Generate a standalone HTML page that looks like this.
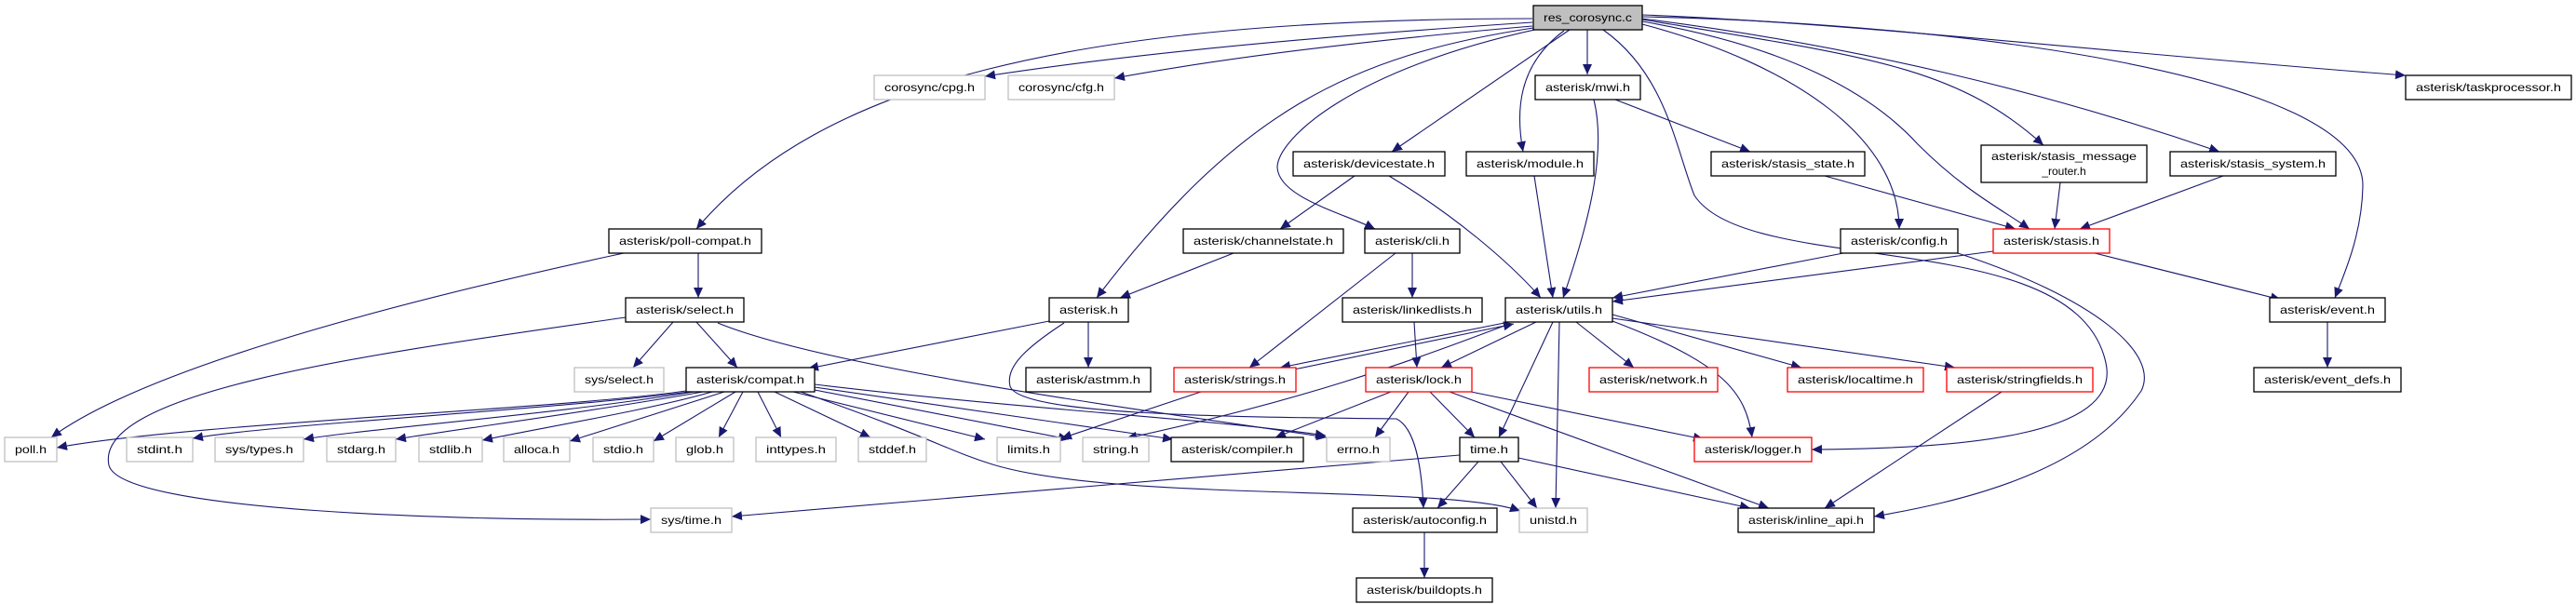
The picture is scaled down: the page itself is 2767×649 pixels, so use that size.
<!DOCTYPE html>
<html><head><meta charset="utf-8"><style>
html,body{margin:0;padding:0;background:#fff;}
svg{display:block;}
text{font-family:"Liberation Sans","DejaVu Sans",sans-serif;font-size:12px;fill:#000;}
.n{fill:#fff;stroke:#000;stroke-width:1.3;}
.g{fill:#fff;stroke:#bfbfbf;stroke-width:1.3;}
.r{fill:#fff;stroke:#ff0000;stroke-width:1.3;}
.e{fill:none;stroke:#191970;stroke-width:1.1;marker-end:url(#a);}
</style></head><body>
<svg width="2767" height="649" viewBox="0 0 2767 649" xmlns="http://www.w3.org/2000/svg">
<defs><marker id="a" markerUnits="userSpaceOnUse" markerWidth="12" markerHeight="10" refX="11" refY="5" orient="auto"><path d="M0,0 L11,5 L0,10 z" fill="#191970"/></marker></defs>
<g>
<!-- edges from res_corosync.c -->
<path class="e" d="M1646,20 C1150,20 880,90 748,246"/>
<path class="e" d="M1646,24 C1400,40 1200,60 1058,82"/>
<path class="e" d="M1646,28 C1450,45 1300,65 1197,84"/>
<path class="e" d="M1647,30 C1450,60 1330,120 1178,320"/>
<path class="e" d="M1686,32 L1495,163"/>
<path class="e" d="M1653,31 C1450,75 1372,150 1372,180 C1374,212 1440,228 1477,246"/>
<path class="e" d="M1680,33 C1630,70 1628,120 1636,163"/>
<path class="e" d="M1705,32 L1705,80"/>
<path class="e" d="M1722,32 C1790,80 1800,160 1820,210 C1880,300 2230,240 2262,390 C2280,470 2100,482 1946,483"/>
<path class="e" d="M1764,26 C1930,70 2040,150 2040,246"/>
<path class="e" d="M1764,23 C1920,50 2010,100 2060,155 C2110,205 2150,225 2180,246"/>
<path class="e" d="M1764,21 C2000,60 2100,70 2195,156"/>
<path class="e" d="M1764,20 C2000,50 2200,100 2384,163"/>
<path class="e" d="M1764,18 C2100,25 2540,80 2538,200 C2537,250 2520,290 2508,320"/>
<path class="e" d="M1764,16 C2000,25 2300,60 2584,81"/>
<!-- mid edges -->
<path class="e" d="M750,272 L750,320"/>
<path class="e" d="M670,272 C400,330 150,400 55,470"/>
<path class="e" d="M723,346 L680,395"/>
<path class="e" d="M748,346 L792,395"/>
<path class="e" d="M672,341 C400,380 100,420 117,500 C130,550 500,560 699,558"/>
<path class="e" d="M771,347 C900,400 1300,450 1425,470"/>
<path class="e" d="M1127,345 L868,396"/>
<path class="e" d="M1169,346 L1169,395"/>
<path class="e" d="M1143,347 C1100,375 1080,395 1085,415 C1095,445 1300,448 1500,450 C1520,460 1527,500 1529,546"/>
<path class="e" d="M1325,272 L1203,320"/>
<path class="e" d="M1455,189 L1375,246"/>
<path class="e" d="M1492,189 C1560,230 1620,280 1655,320"/>
<path class="e" d="M1648,189 L1668,320"/>
<path class="e" d="M1712,107 C1725,160 1710,230 1679,320"/>
<path class="e" d="M1735,107 L1880,163"/>
<path class="e" d="M1960,189 L2165,246"/>
<path class="e" d="M2213,196 L2207,246"/>
<path class="e" d="M2388,189 L2234,246"/>
<path class="e" d="M2141,270 L1732,324"/>
<path class="e" d="M1980,272 L1732,320"/>
<path class="e" d="M2103,272 C2250,320 2320,380 2300,420 C2240,510 2100,540 2013,555"/>
<path class="e" d="M2250,272 L2450,322"/>
<path class="e" d="M2500,346 L2500,395"/>
<path class="e" d="M1517,272 L1517,320"/>
<path class="e" d="M1499,272 L1342,395"/>
<path class="e" d="M1519,346 L1522,395"/>
<path class="e" d="M1616,347 L1375,395"/>
<path class="e" d="M1385,398 L1626,348"/>
<path class="e" d="M1650,346 L1548,395"/>
<path class="e" d="M1668,346 L1610,470"/>
<path class="e" d="M1675,346 L1671,546"/>
<path class="e" d="M1693,346 L1755,395"/>
<path class="e" d="M1732,338 L1935,395"/>
<path class="e" d="M1732,342 L2100,395"/>
<path class="e" d="M1732,345 C1850,390 1875,420 1882,470"/>
<path class="e" d="M1616,350 C1510,390 1400,430 1210,471"/>
<path class="e" d="M1290,421 L1140,471"/>
<path class="e" d="M1494,421 L1370,470"/>
<path class="e" d="M1513,421 L1477,470"/>
<path class="e" d="M1536,421 L1584,470"/>
<path class="e" d="M1580,421 L1830,472"/>
<path class="e" d="M1557,421 L1900,546"/>
<path class="e" d="M1568,489 L786,555"/>
<path class="e" d="M1588,496 L1544,546"/>
<path class="e" d="M1612,496 L1651,546"/>
<path class="e" d="M1631,492 L1880,546"/>
<path class="e" d="M2150,421 L1960,546"/>
<path class="e" d="M1530,571 L1530,621"/>
<!-- compat edges -->
<path class="e" d="M737,420 C600,440 200,455 61,481"/>
<path class="e" d="M740,421 C600,440 300,455 207,471"/>
<path class="e" d="M745,421 C600,445 400,460 326,472"/>
<path class="e" d="M755,421 C650,440 500,460 425,472"/>
<path class="e" d="M765,421 C700,440 580,460 518,473"/>
<path class="e" d="M778,421 L612,474"/>
<path class="e" d="M790,421 L702,474"/>
<path class="e" d="M798,421 L772,470"/>
<path class="e" d="M814,421 L839,470"/>
<path class="e" d="M832,421 L935,470"/>
<path class="e" d="M852,421 L1058,472"/>
<path class="e" d="M870,418 L1148,472"/>
<path class="e" d="M875,416 L1260,472"/>
<path class="e" d="M875,413 C1100,440 1300,450 1424,468"/>
<path class="e" d="M860,421 C1000,470 1020,485 1066,499 C1200,540 1550,520 1633,549"/>
</g>
<g>
<rect x="1647" y="6" width="117" height="26" style="fill:#bfbfbf;stroke:#000;stroke-width:1.3"/><text x="1705.5" y="23" text-anchor="middle" textLength="95" lengthAdjust="spacingAndGlyphs">res_corosync.c</text>
<rect class="g" x="939" y="81" width="119" height="26"/><text x="998.5" y="98" text-anchor="middle" textLength="97" lengthAdjust="spacingAndGlyphs">corosync/cpg.h</text>
<rect class="g" x="1083" y="81" width="114" height="26"/><text x="1140" y="98" text-anchor="middle" textLength="92" lengthAdjust="spacingAndGlyphs">corosync/cfg.h</text>
<rect class="n" x="1649" y="81" width="113" height="26"/><text x="1705.5" y="98" text-anchor="middle" textLength="91" lengthAdjust="spacingAndGlyphs">asterisk/mwi.h</text>
<rect class="n" x="2584" y="81" width="178" height="26"/><text x="2673" y="98" text-anchor="middle" textLength="156" lengthAdjust="spacingAndGlyphs">asterisk/taskprocessor.h</text>
<rect class="n" x="1389" y="163" width="163" height="26"/><text x="1470.5" y="180" text-anchor="middle" textLength="141" lengthAdjust="spacingAndGlyphs">asterisk/devicestate.h</text>
<rect class="n" x="1575" y="163" width="137" height="26"/><text x="1643.5" y="180" text-anchor="middle" textLength="115" lengthAdjust="spacingAndGlyphs">asterisk/module.h</text>
<rect class="n" x="1838" y="163" width="165" height="26"/><text x="1920.5" y="180" text-anchor="middle" textLength="143" lengthAdjust="spacingAndGlyphs">asterisk/stasis_state.h</text>
<rect class="n" x="2128" y="156" width="178" height="40"/><text x="2217" y="172" text-anchor="middle" textLength="156" lengthAdjust="spacingAndGlyphs">asterisk/stasis_message</text><text x="2217" y="188" text-anchor="middle">_router.h</text>
<rect class="n" x="2331" y="163" width="178" height="26"/><text x="2420" y="180" text-anchor="middle" textLength="156" lengthAdjust="spacingAndGlyphs">asterisk/stasis_system.h</text>
<rect class="n" x="654" y="246" width="164" height="26"/><text x="736" y="263" text-anchor="middle" textLength="142" lengthAdjust="spacingAndGlyphs">asterisk/poll-compat.h</text>
<rect class="n" x="1271" y="246" width="172" height="26"/><text x="1357" y="263" text-anchor="middle" textLength="150" lengthAdjust="spacingAndGlyphs">asterisk/channelstate.h</text>
<rect class="n" x="1466" y="246" width="102" height="26"/><text x="1517" y="263" text-anchor="middle" textLength="80" lengthAdjust="spacingAndGlyphs">asterisk/cli.h</text>
<rect class="n" x="1977" y="246" width="126" height="26"/><text x="2040" y="263" text-anchor="middle" textLength="104" lengthAdjust="spacingAndGlyphs">asterisk/config.h</text>
<rect class="r" x="2141" y="246" width="125" height="26"/><text x="2203.5" y="263" text-anchor="middle" textLength="103" lengthAdjust="spacingAndGlyphs">asterisk/stasis.h</text>
<rect class="n" x="672" y="320" width="127" height="26"/><text x="735.5" y="337" text-anchor="middle" textLength="105" lengthAdjust="spacingAndGlyphs">asterisk/select.h</text>
<rect class="n" x="1127" y="320" width="85" height="26"/><text x="1169.5" y="337" text-anchor="middle" textLength="63" lengthAdjust="spacingAndGlyphs">asterisk.h</text>
<rect class="n" x="1442" y="320" width="150" height="26"/><text x="1517" y="337" text-anchor="middle" textLength="128" lengthAdjust="spacingAndGlyphs">asterisk/linkedlists.h</text>
<rect class="n" x="1617" y="320" width="115" height="26"/><text x="1674.5" y="337" text-anchor="middle" textLength="93" lengthAdjust="spacingAndGlyphs">asterisk/utils.h</text>
<rect class="n" x="2438" y="320" width="124" height="26"/><text x="2500" y="337" text-anchor="middle" textLength="102" lengthAdjust="spacingAndGlyphs">asterisk/event.h</text>
<rect class="g" x="617" y="395" width="96" height="26"/><text x="665" y="412" text-anchor="middle" textLength="74" lengthAdjust="spacingAndGlyphs">sys/select.h</text>
<rect class="n" x="737" y="395" width="138" height="26"/><text x="806" y="412" text-anchor="middle" textLength="116" lengthAdjust="spacingAndGlyphs">asterisk/compat.h</text>
<rect class="n" x="1102" y="395" width="134" height="26"/><text x="1169" y="412" text-anchor="middle" textLength="112" lengthAdjust="spacingAndGlyphs">asterisk/astmm.h</text>
<rect class="r" x="1261" y="395" width="131" height="26"/><text x="1326.5" y="412" text-anchor="middle" textLength="109" lengthAdjust="spacingAndGlyphs">asterisk/strings.h</text>
<rect class="r" x="1467" y="395" width="114" height="26"/><text x="1524" y="412" text-anchor="middle" textLength="92" lengthAdjust="spacingAndGlyphs">asterisk/lock.h</text>
<rect class="r" x="1707" y="395" width="138" height="26"/><text x="1776" y="412" text-anchor="middle" textLength="116" lengthAdjust="spacingAndGlyphs">asterisk/network.h</text>
<rect class="r" x="1920" y="395" width="146" height="26"/><text x="1993" y="412" text-anchor="middle" textLength="124" lengthAdjust="spacingAndGlyphs">asterisk/localtime.h</text>
<rect class="r" x="2091" y="395" width="157" height="26"/><text x="2169.5" y="412" text-anchor="middle" textLength="135" lengthAdjust="spacingAndGlyphs">asterisk/stringfields.h</text>
<rect class="n" x="2421" y="395" width="158" height="26"/><text x="2500" y="412" text-anchor="middle" textLength="136" lengthAdjust="spacingAndGlyphs">asterisk/event_defs.h</text>
<rect class="g" x="5" y="470" width="56" height="26"/><text x="33" y="487" text-anchor="middle" textLength="34" lengthAdjust="spacingAndGlyphs">poll.h</text>
<rect class="g" x="136" y="470" width="71" height="26"/><text x="171.5" y="487" text-anchor="middle" textLength="49" lengthAdjust="spacingAndGlyphs">stdint.h</text>
<rect class="g" x="231" y="470" width="95" height="26"/><text x="278.5" y="487" text-anchor="middle" textLength="73" lengthAdjust="spacingAndGlyphs">sys/types.h</text>
<rect class="g" x="351" y="470" width="74" height="26"/><text x="388" y="487" text-anchor="middle" textLength="52" lengthAdjust="spacingAndGlyphs">stdarg.h</text>
<rect class="g" x="450" y="470" width="68" height="26"/><text x="484" y="487" text-anchor="middle" textLength="46" lengthAdjust="spacingAndGlyphs">stdlib.h</text>
<rect class="g" x="541" y="470" width="71" height="26"/><text x="576.5" y="487" text-anchor="middle" textLength="49" lengthAdjust="spacingAndGlyphs">alloca.h</text>
<rect class="g" x="637" y="470" width="65" height="26"/><text x="669.5" y="487" text-anchor="middle" textLength="43" lengthAdjust="spacingAndGlyphs">stdio.h</text>
<rect class="g" x="726" y="470" width="62" height="26"/><text x="757" y="487" text-anchor="middle" textLength="40" lengthAdjust="spacingAndGlyphs">glob.h</text>
<rect class="g" x="812" y="470" width="86" height="26"/><text x="855" y="487" text-anchor="middle" textLength="64" lengthAdjust="spacingAndGlyphs">inttypes.h</text>
<rect class="g" x="922" y="470" width="73" height="26"/><text x="958.5" y="487" text-anchor="middle" textLength="51" lengthAdjust="spacingAndGlyphs">stddef.h</text>
<rect class="g" x="1071" y="470" width="68" height="26"/><text x="1105" y="487" text-anchor="middle" textLength="46" lengthAdjust="spacingAndGlyphs">limits.h</text>
<rect class="g" x="1163" y="470" width="71" height="26"/><text x="1198.5" y="487" text-anchor="middle" textLength="49" lengthAdjust="spacingAndGlyphs">string.h</text>
<rect class="n" x="1258" y="470" width="142" height="26"/><text x="1329" y="487" text-anchor="middle" textLength="120" lengthAdjust="spacingAndGlyphs">asterisk/compiler.h</text>
<rect class="g" x="1425" y="470" width="68" height="26"/><text x="1459" y="487" text-anchor="middle" textLength="46" lengthAdjust="spacingAndGlyphs">errno.h</text>
<rect class="n" x="1568" y="470" width="63" height="26"/><text x="1599.5" y="487" text-anchor="middle" textLength="41" lengthAdjust="spacingAndGlyphs">time.h</text>
<rect class="r" x="1820" y="470" width="126" height="26"/><text x="1883" y="487" text-anchor="middle" textLength="104" lengthAdjust="spacingAndGlyphs">asterisk/logger.h</text>
<rect class="g" x="699" y="546" width="87" height="26"/><text x="742.5" y="563" text-anchor="middle" textLength="65" lengthAdjust="spacingAndGlyphs">sys/time.h</text>
<rect class="n" x="1453" y="546" width="155" height="26"/><text x="1530.5" y="563" text-anchor="middle" textLength="133" lengthAdjust="spacingAndGlyphs">asterisk/autoconfig.h</text>
<rect class="g" x="1632" y="546" width="73" height="26"/><text x="1668.5" y="563" text-anchor="middle" textLength="51" lengthAdjust="spacingAndGlyphs">unistd.h</text>
<rect class="n" x="1867" y="546" width="146" height="26"/><text x="1940" y="563" text-anchor="middle" textLength="124" lengthAdjust="spacingAndGlyphs">asterisk/inline_api.h</text>
<rect class="n" x="1457" y="621" width="146" height="26"/><text x="1530" y="638" text-anchor="middle" textLength="124" lengthAdjust="spacingAndGlyphs">asterisk/buildopts.h</text>
</g>
</svg>
</body></html>
